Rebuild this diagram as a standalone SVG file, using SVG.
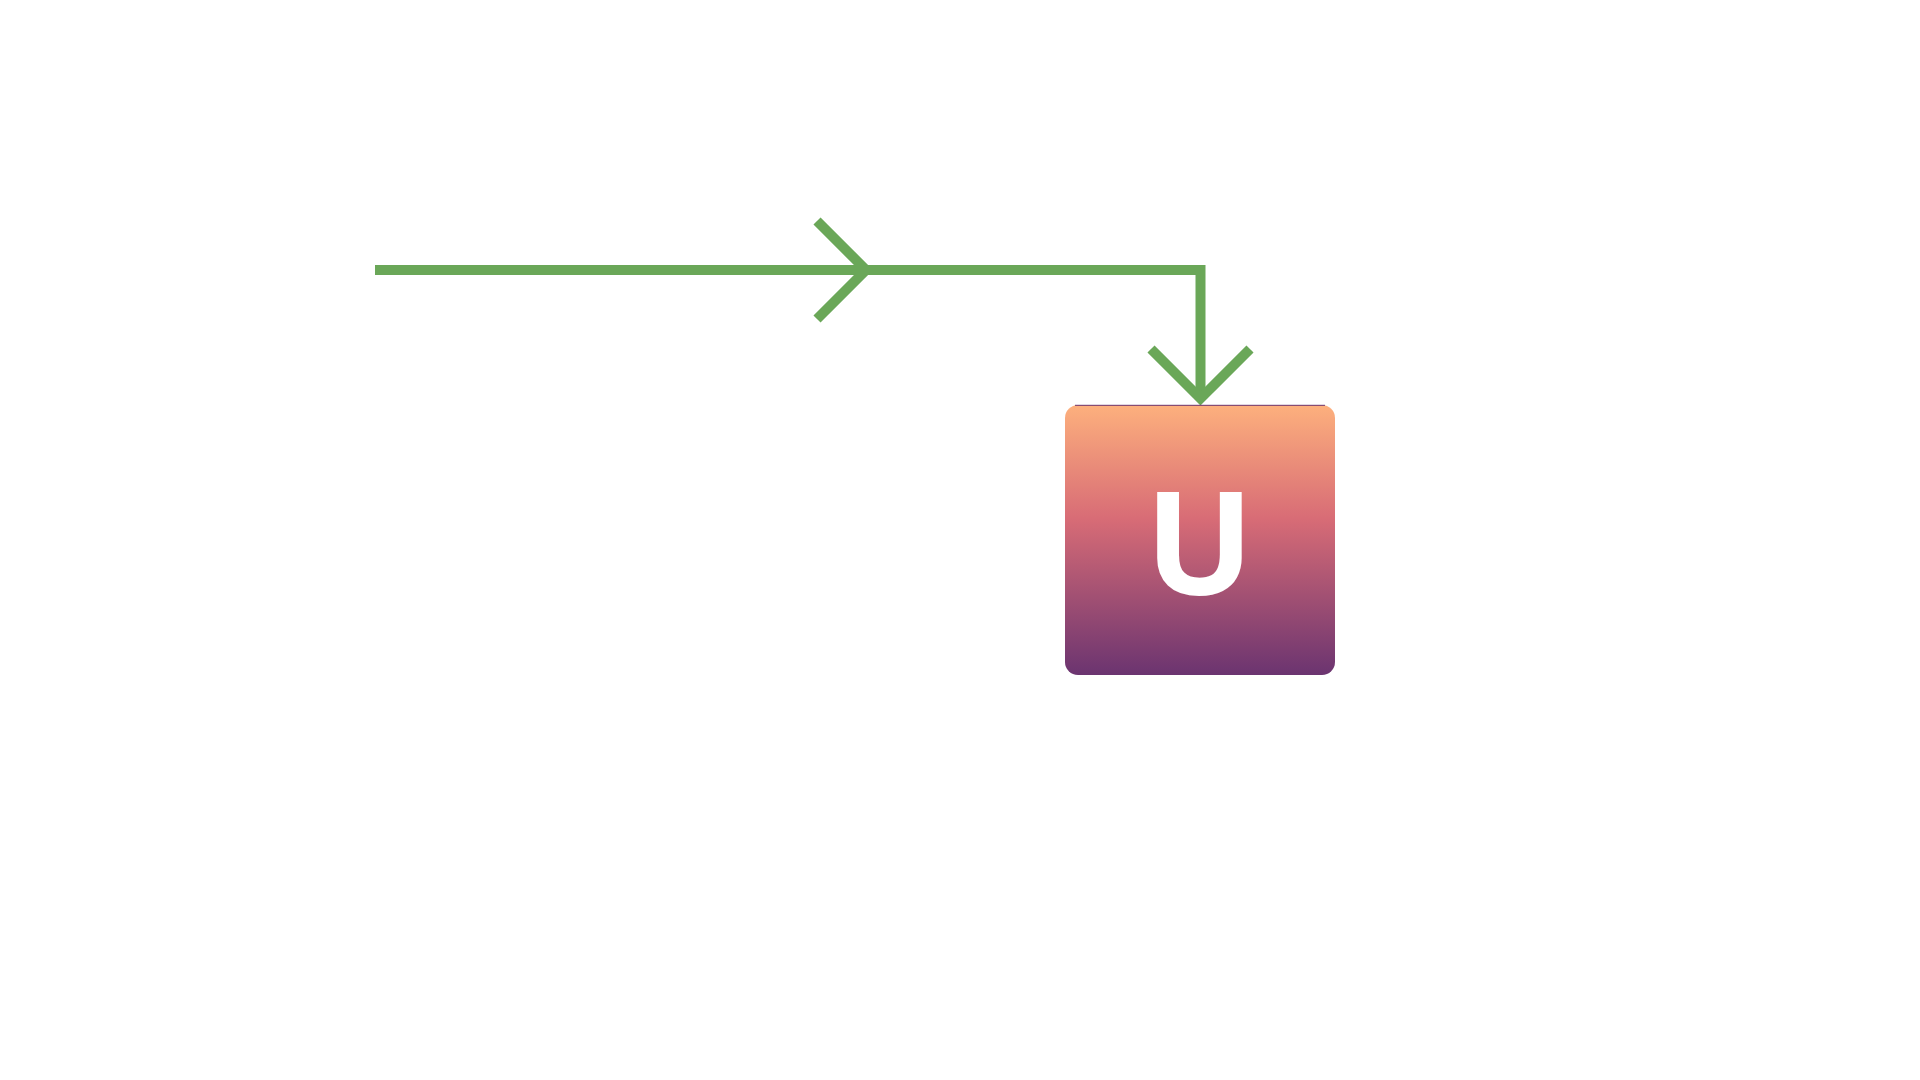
<svg xmlns="http://www.w3.org/2000/svg" width="1920" height="1080" viewBox="0 0 1920 1080">
<style>
.conn{fill:none;stroke:#6aa758;stroke-width:10;stroke-linejoin:miter;stroke-linecap:butt}
.lbl{font-family:"Noto Sans","Open Sans","Liberation Sans",sans-serif;font-weight:700;font-size:144px;fill:#ffffff;text-anchor:middle}
</style>
<defs>
<linearGradient id="grad" x1="0" y1="0" x2="0" y2="1">
<stop offset="0" stop-color="#fdb07d"/>
<stop offset="0.42" stop-color="#d86c76"/>
<stop offset="1" stop-color="#6b3470"/>
</linearGradient>
</defs>
<rect width="1920" height="1080" fill="#ffffff"/>
<g id="connectors">
<path class="conn" d="M375,270 H1200.5 V400"/>
<path class="conn" d="M817,221 L866,270 L817,319"/>
<path class="conn" d="M1151,349 L1200.5,398.5 L1250,349"/>
</g>
<g id="node-u">
<rect x="1065" y="405" width="270" height="270" rx="13" ry="13" fill="url(#grad)"/>
<line x1="1075" y1="405.3" x2="1325" y2="405.3" stroke="#6b3470" stroke-width="1"/>
<text class="lbl" x="1199.5" y="594.5">U</text>
</g>
</svg>
